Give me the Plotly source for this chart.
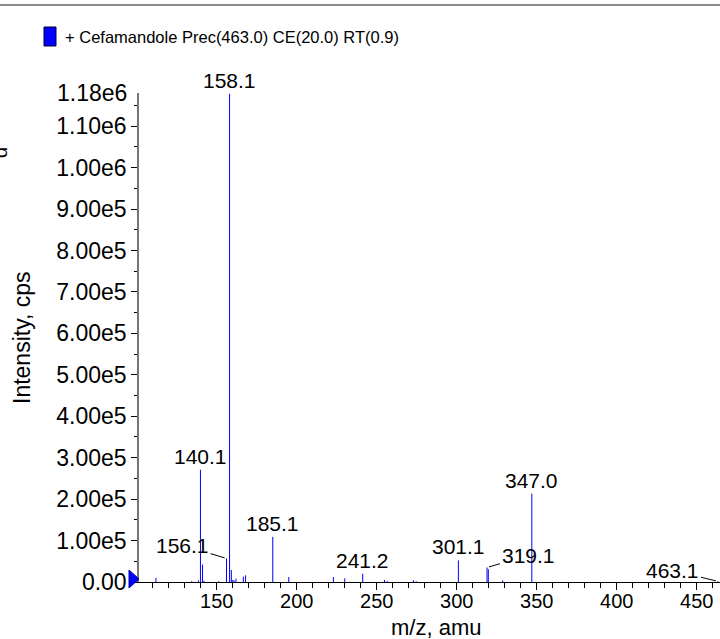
import plotly.graph_objects as go

# ---- data ----
mz = [112.0, 134.4, 138.5, 139.8, 141.1, 142.0, 151.2, 156.1, 158.0, 159.1, 160.0,
      160.8, 162.0, 166.6, 168.0, 185.0, 195.0, 222.9, 230.0, 241.2, 254.8, 256.5,
      272.9, 274.6, 301.0, 318.9, 319.7, 328.7, 346.9, 463.2]
intensity = [1.0e4, 2.0e3, 4.0e3, 2.71e5, 4.2e4, 3.0e3, 2.0e3, 5.7e4, 1.178e6, 2.9e4, 5.0e3,
             4.0e3, 8.0e3, 1.3e4, 1.6e4, 1.09e5, 1.2e4, 1.2e4, 9.0e3, 2.0e4, 5.0e3, 2.5e3,
             4.0e3, 2.0e3, 5.2e4, 3.5e4, 3.1e4, 4.0e3, 2.13e5, 1.5e3]

label_text = ["158.1", "140.1", "185.1", "347.0", "301.1", "241.2", "156.1", "319.1", "463.1"]
label_peak = [158.0, 139.8, 185.0, 346.9, 301.0, 241.2, 156.1, 318.9, 463.2]

y_tickvals = [0, 1e5, 2e5, 3e5, 4e5, 5e5, 6e5, 7e5, 8e5, 9e5, 1.0e6, 1.1e6]
y_ticktext = ["0.00", "1.00e5", "2.00e5", "3.00e5", "4.00e5", "5.00e5", "6.00e5",
              "7.00e5", "8.00e5", "9.00e5", "1.00e6", "1.10e6"]
y_max = 1.18e6
y_max_text = "1.18e6"
x_range = [101.4, 464.5]

title_text = "+ Cefamandole Prec(463.0) CE(20.0) RT(0.9)"
x_title = "m/z, amu"
y_title = "Intensity, cps"

# ---- figure ----
W, H = 720, 639
ML, MR, MT, MB = 139, 0, 93, 57
PW, PH = W - ML - MR, H - MT - MB

def px(x):
    return (x - ML) / PW

def py(y):
    return (H - MB - y) / PH

FONT = "Liberation Sans, Arial, Helvetica, sans-serif"

xs, ys = [], []
for m, v in zip(mz, intensity):
    xs += [m, m, None]
    ys += [0, v, None]

fig = go.Figure()
fig.add_trace(go.Scatter(x=xs, y=ys, mode="lines",
                         line=dict(color="#0000ff", width=1),
                         hoverinfo="skip", showlegend=False))

# peak labels
leader = {"156.1": (-44, -13), "319.1": (41, -12), "463.1": (-45, -11)}
inten_of = dict(zip(mz, intensity))
for t, m in zip(label_text, label_peak):
    v = inten_of[m]
    if t in leader:
        ax, ay = leader[t]
        fig.add_annotation(x=m, y=v, text=t, showarrow=True, arrowhead=0,
                           arrowwidth=1, arrowcolor="black", ax=ax, ay=ay,
                           standoff=2, font=dict(family=FONT, size=21, color="black"))
    else:
        fig.add_annotation(x=m, y=v, text=t, showarrow=False, yanchor="bottom",
                           yshift=0, font=dict(family=FONT, size=21, color="black"))

# top tick label 1.18e6
fig.add_annotation(xref="paper", x=0, y=y_max, text=y_max_text, showarrow=False,
                   xanchor="right", yanchor="middle", xshift=-10,
                   font=dict(family=FONT, size=23, color="black"))

# axis titles
fig.add_annotation(xref="paper", yref="paper", x=px(22), y=py(338), text=y_title,
                   textangle=-90, showarrow=False, xanchor="center", yanchor="middle",
                   font=dict(family=FONT, size=23, color="black"))
fig.add_annotation(xref="paper", yref="paper", x=px(436), y=py(627), text=x_title,
                   showarrow=False, xanchor="center", yanchor="middle",
                   font=dict(family=FONT, size=22, color="black"))

# legend-like title
fig.add_annotation(xref="paper", yref="paper", x=px(63), y=py(37), text=title_text,
                   showarrow=False, xanchor="left", yanchor="middle",
                   font=dict(family=FONT, size=16.5, color="black"))
fig.add_shape(type="rect", xref="paper", yref="paper", x0=px(44), x1=px(56),
              y0=py(46), y1=py(27), fillcolor="#0000ff", line=dict(color="#000033", width=1))

# top rule
fig.add_shape(type="line", xref="paper", yref="paper", x0=px(0), x1=px(W),
              y0=py(5), y1=py(5), line=dict(color="#666666", width=1.5))

# blue triangle marker at zero
fig.add_shape(type="path", xref="paper", yref="paper", xsizemode="pixel", ysizemode="pixel",
              xanchor=0, yanchor=0, path="M -10 12 L 0 3 L -10 -6 Z",
              fillcolor="#0000ff", line=dict(color="#0000aa", width=1))

# clipped glyph at left edge
fig.add_annotation(xref="paper", yref="paper", x=px(3), y=py(152), text="p",
                   textangle=90, showarrow=False, xanchor="center", yanchor="middle",
                   font=dict(family=FONT, size=20, color="black"))

fig.update_layout(
    width=W, height=H,
    margin=dict(l=ML, r=MR, t=MT, b=MB, pad=0, autoexpand=False),
    paper_bgcolor="white", plot_bgcolor="white",
    showlegend=False,
    font=dict(family=FONT, size=21, color="black"),
    xaxis=dict(range=x_range, showgrid=False, zeroline=False, automargin=False,
               showline=True, linecolor="black", linewidth=1,
               ticks="outside", ticklen=7, tickcolor="black", tickwidth=1,
               tick0=150, dtick=50, ticklabelstandoff=-6,
               minor=dict(ticks="outside", ticklen=5, dtick=10, tick0=100,
                          tickcolor="black", showgrid=False),
               tickfont=dict(family=FONT, size=20, color="black")),
    yaxis=dict(range=[0, y_max], showgrid=False, zeroline=False, automargin=False,
               showline=True, linecolor="#777777", linewidth=1.5,
               ticks="outside", ticklen=6, tickcolor="black", tickwidth=1,
               tickmode="array", tickvals=y_tickvals, ticktext=y_ticktext,
               minor=dict(ticks="outside", ticklen=3, dtick=5e4, tick0=0,
                          tickcolor="black", showgrid=False),
               tickfont=dict(family=FONT, size=23, color="black")),
)

fig.write_html("out.html", config={"displayModeBar": False},
               post_script="document.body.style.margin='0px';document.body.style.overflow='hidden';")
